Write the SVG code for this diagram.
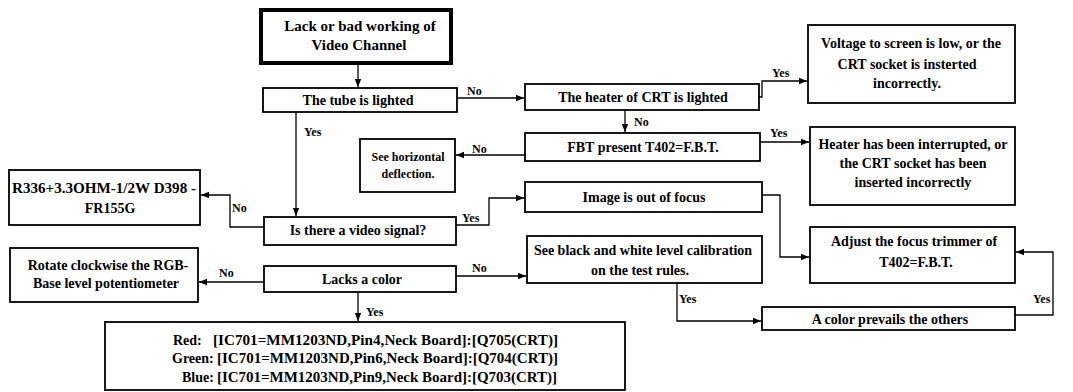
<svg xmlns="http://www.w3.org/2000/svg" width="1073" height="392" viewBox="0 0 1073 392">
<style>
.box{fill:#fff;stroke:#000;stroke-width:1.8}
.tb{fill:#fff;stroke:#000;stroke-width:4}
.t{font-family:"Liberation Serif",serif;font-weight:bold;font-size:14px;fill:#000;text-anchor:middle}
.ts{font-family:"Liberation Serif",serif;font-weight:bold;font-size:12px;fill:#000;text-anchor:middle}
.tl{font-family:"Liberation Serif",serif;font-weight:bold;font-size:14px;fill:#000}
.lb{font-family:"Liberation Serif",serif;font-weight:bold;font-size:12px;fill:#000}
.c{fill:none;stroke:#000;stroke-width:1.3;marker-end:url(#ah)}
</style>
<defs>
<marker id="ah" viewBox="0 0 10 10" refX="10" refY="5" markerWidth="9" markerHeight="8" markerUnits="userSpaceOnUse" orient="auto"><path d="M0,1 L10,5 L0,9 z" fill="#000"/></marker>
</defs>
<rect width="1073" height="392" fill="#fff"/>
<g id="connectors">
<path class="c" d="M358,63 V87"/>
<path class="c" d="M457,98 H524"/>
<path class="c" d="M759,97 H762 V81 H807"/>
<path class="c" d="M625,110 V132"/>
<path class="c" d="M760,142 H809"/>
<path class="c" d="M525,155 H456"/>
<path class="c" d="M296,112 V216"/>
<path class="c" d="M264,227 H230 V195 H201"/>
<path class="c" d="M456,225 H489 V198 H524"/>
<path class="c" d="M762,195 H780 V257 H809"/>
<path class="c" d="M456,276 H526"/>
<path class="c" d="M264,282 H199"/>
<path class="c" d="M358,292 V321"/>
<path class="c" d="M677,283 V321 H761"/>
<path class="c" d="M1015,315 H1053 V252 H1016"/>
<text class="lb" x="467" y="95">No</text>
<text class="lb" x="772" y="77">Yes</text>
<text class="lb" x="634" y="126">No</text>
<text class="lb" x="770" y="137">Yes</text>
<text class="lb" x="472" y="153">No</text>
<text class="lb" x="304" y="136">Yes</text>
<text class="lb" x="232" y="212">No</text>
<text class="lb" x="462" y="222">Yes</text>
<text class="lb" x="472" y="272">No</text>
<text class="lb" x="219" y="277">No</text>
<text class="lb" x="366" y="316">Yes</text>
<text class="lb" x="679" y="303">Yes</text>
<text class="lb" x="1033" y="303">Yes</text>
</g>
<g id="n1"><rect class="tb" x="261" y="10" width="190" height="53"/><text class="t" style="font-size:15px" x="360" y="31">Lack or bad working of</text><text class="t" style="font-size:15px" x="359" y="50">Video Channel</text></g>
<g id="n2"><rect class="box" x="263" y="88" width="194" height="24"/><text class="t" x="358" y="105">The tube is lighted</text></g>
<g id="n3"><rect class="box" x="525" y="84" width="234" height="26"/><text class="t" x="643" y="102">The heater of CRT is lighted</text></g>
<g id="n4"><rect class="box" x="808" y="25" width="207" height="78"/><text class="t" x="911" y="48">Voltage to screen is low, or the</text><text class="t" x="907" y="69">CRT socket is insterted</text><text class="t" x="907" y="88">incorrectly.</text></g>
<g id="n5"><rect class="box" x="525" y="133" width="235" height="28"/><text class="t" x="643" y="152">FBT present T402=F.B.T.</text></g>
<g id="n6"><rect class="box" x="810" y="127" width="205" height="78"/><text class="t" x="913" y="149">Heater has been interrupted, or</text><text class="t" x="913" y="168">the CRT socket has been</text><text class="t" x="913" y="187">inserted incorrectly</text></g>
<g id="n7"><rect class="box" x="360" y="139" width="95" height="53"/><text class="ts" x="408" y="161">See horizontal</text><text class="ts" x="408" y="178">deflection.</text></g>
<g id="n8"><rect class="box" x="9" y="170" width="191" height="55"/><text class="t" x="104" y="193" textLength="184" lengthAdjust="spacingAndGlyphs">R336+3.3OHM-1/2W D398 -</text><text class="t" x="110" y="213">FR155G</text></g>
<g id="n9"><rect class="box" x="264" y="217" width="192" height="28"/><text class="t" x="358" y="235">Is there a video signal?</text></g>
<g id="n10"><rect class="box" x="525" y="182" width="237" height="30"/><text class="t" x="644" y="202">Image is out of focus</text></g>
<g id="n11"><rect class="box" x="810" y="227" width="205" height="56"/><text class="t" x="914" y="246">Adjust the focus trimmer of</text><text class="t" x="916" y="267">T402=F.B.T.</text></g>
<g id="n12"><rect class="box" x="527" y="236" width="235" height="47"/><text class="t" x="643" y="255">See black and white level calibration</text><text class="t" x="640" y="275">on the test rules.</text></g>
<g id="n13"><rect class="box" x="264" y="266" width="192" height="26"/><text class="t" x="362" y="284">Lacks a color</text></g>
<g id="n14"><rect class="box" x="10" y="248" width="188" height="54"/><text class="t" x="108" y="270">Rotate clockwise the RGB-</text><text class="t" x="106" y="288">Base level potentiometer</text></g>
<g id="n15"><rect class="box" x="762" y="307" width="253" height="23"/><text class="t" x="890" y="324">A color prevails the others</text></g>
<g id="n16"><rect class="box" x="105" y="322" width="520" height="68"/>
<text class="tl" x="173" y="345">Red:</text><text class="tl" x="213" y="345" textLength="345" lengthAdjust="spacingAndGlyphs">[IC701=MM1203ND,Pin4,Neck Board]:[Q705(CRT)]</text>
<text class="tl" x="172" y="363">Green:</text><text class="tl" x="217" y="363" textLength="341" lengthAdjust="spacingAndGlyphs">[IC701=MM1203ND,Pin6,Neck Board]:[Q704(CRT)]</text>
<text class="tl" x="182" y="382">Blue:</text><text class="tl" x="217" y="382" textLength="340" lengthAdjust="spacingAndGlyphs">[IC701=MM1203ND,Pin9,Neck Board]:[Q703(CRT)]</text></g>
</svg>
